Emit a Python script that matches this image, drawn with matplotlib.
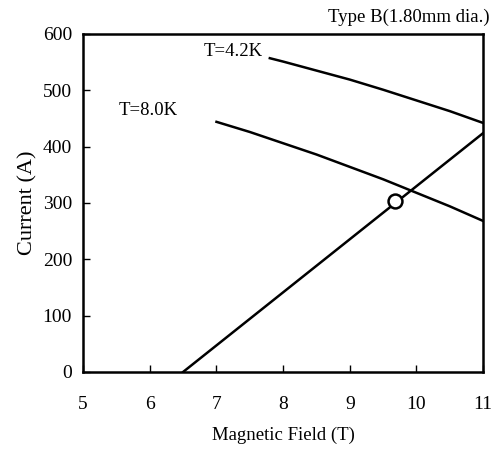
import matplotlib
matplotlib.use('Agg')
import matplotlib.pyplot as plt

plt.rcParams['font.family'] = ['Liberation Serif', 'DejaVu Serif']

# Critical current curves
field_42 = [7.8, 8.0, 8.5, 9.0, 9.5, 10.0, 10.5, 11.0]
current_42 = [557, 551, 535, 519, 501, 482, 463, 442]

field_80 = [7.0, 7.5, 8.0, 8.5, 9.0, 9.5, 10.0, 10.5, 11.0]
current_80 = [444, 426, 406, 386, 364, 342, 318, 294, 268]

# Load line
load_field = [6.5, 11.0]
load_current = [0, 424]

# Operating point
op_field = [9.68]
op_current = [304]

fig = plt.figure(figsize=(4.92, 4.53), dpi=100)
ax = fig.add_axes([0.169, 0.179, 0.813, 0.746])

ax.plot(field_42, current_42, color='black', lw=1.8)
ax.plot(field_80, current_80, color='black', lw=1.8)
ax.plot(load_field, load_current, color='black', lw=1.8)
ax.plot(op_field, op_current, marker='o', ms=10, mfc='white', mec='black', mew=1.8, ls='none')

ax.text(6.8, 568, 'T=4.2K', fontsize=13.5, va='center', ha='left')
ax.text(5.53, 465, 'T=8.0K', fontsize=13.5, va='center', ha='left')

ax.set_xlim(5, 11)
ax.set_ylim(0, 600)
ax.set_xticks(range(5, 12))
ax.set_yticks(range(0, 601, 100))
ax.tick_params(direction='in', length=5, width=1, labelsize=14)
ax.tick_params(axis='x', pad=17)
ax.tick_params(axis='y', pad=8)
for s in ax.spines.values():
    s.set_linewidth(1.8)

ax.set_xlabel('Magnetic Field (T)', fontsize=13.5, labelpad=10)
ax.set_ylabel('Current (A)', fontsize=16, labelpad=4)

fig.text(0.995, 0.962, 'Type B(1.80mm dia.)', fontsize=13.5, ha='right', va='center')

fig.savefig('out.png', dpi=100)
